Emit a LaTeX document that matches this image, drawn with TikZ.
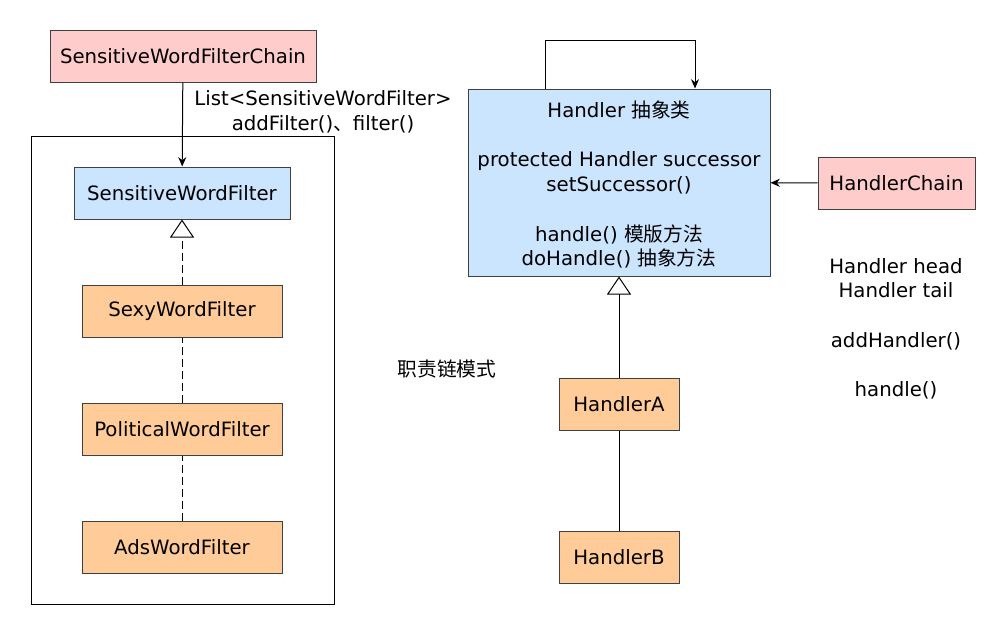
\documentclass[tikz,border=0pt]{standalone}
\usepackage{fontspec}
\setmainfont{DejaVu Sans}
\newfontfamily\cjk{Noto Sans CJK SC}
\usepackage{xcolor}
\usetikzlibrary{arrows.meta,positioning}
\definecolor{pinkbox}{HTML}{FFCCCC}
\definecolor{bluebox}{HTML}{CCE5FF}
\definecolor{orangebox}{HTML}{FFCC99}
\tikzset{
  cls/.style={draw=black!75,minimum height=39pt,inner sep=0pt,align=center,font=\fontsize{14.8}{18.75}\selectfont},
  txt/.style={align=center,inner sep=0pt,font=\fontsize{14.8}{18.5}\selectfont},
  arr/.style={-{Stealth[length=7pt,width=6pt]}},
  inh/.style={-{Triangle[open,length=13.5pt,width=18pt,fill=white]}},
  dsh/.style={dash pattern=on 6pt off 3pt},
}
\begin{document}
\begin{tikzpicture}[x=0.75pt,y=-0.75pt,line width=0.75pt]
\useasboundingbox (0,0) rectangle (1006,636);
% filter chain
\node[cls,fill=pinkbox,minimum width=199.5pt] (chain) at (183,56) {SensitiveWordFilterChain};
\draw (31,136) rectangle (334,604);
\node[cls,fill=bluebox,minimum width=162pt] (swf) at (182,193) {SensitiveWordFilter};
\node[cls,fill=orangebox,minimum width=150pt] (sexy) at (182,311) {SexyWordFilter};
\node[cls,fill=orangebox,minimum width=150pt] (pol) at (182,429) {PoliticalWordFilter};
\node[cls,fill=orangebox,minimum width=150pt] (ads) at (182,547) {AdsWordFilter};
\node[txt] (lst) at (323,112) {List<SensitiveWordFilter>\\addFilter(){\cjk 、}filter()};
\draw[arr] (chain) -- (swf);
\draw[inh,dsh] (sexy) -- (swf);
\draw[dsh] (pol) -- (sexy);
\draw[dsh] (ads) -- (pol);
% handler chain
\node[cls,fill=bluebox,minimum width=226.5pt,minimum height=140.25pt] (hdl) at (619,182.5) {};
\node[txt] (hdltxt) at (619,184.5)
  {Handler {\cjk 抽象类}\\[18.75pt]protected Handler successor\\setSuccessor()\\[18.75pt]handle() {\cjk 模版方法}\\doHandle() {\cjk 抽象方法}};
\node[cls,fill=pinkbox,minimum width=117.75pt] (hchain) at (896.5,183) {HandlerChain};
\node[txt] (hfields) at (896,328.5) {Handler head\\Handler tail\\[18.5pt]addHandler()\\[18.5pt]handle()};
\node[txt] (title) at (447,369) {\cjk 职责链模式};
\node[cls,fill=orangebox,minimum width=90pt] (ha) at (619,404) {HandlerA};
\node[cls,fill=orangebox,minimum width=90pt] (hb) at (619,557) {HandlerB};
\coordinate (loopa) at (545,40);
\coordinate (loopb) at (695,40);
\draw[arr] (hdl.north -| loopa) -- (loopa) -- (loopb) -- (hdl.north -| loopb);
\draw[arr] (hchain) -- (hdl);
\draw[inh] (ha) -- (hdl);
\draw (hb) -- (ha);
\end{tikzpicture}
\end{document}
